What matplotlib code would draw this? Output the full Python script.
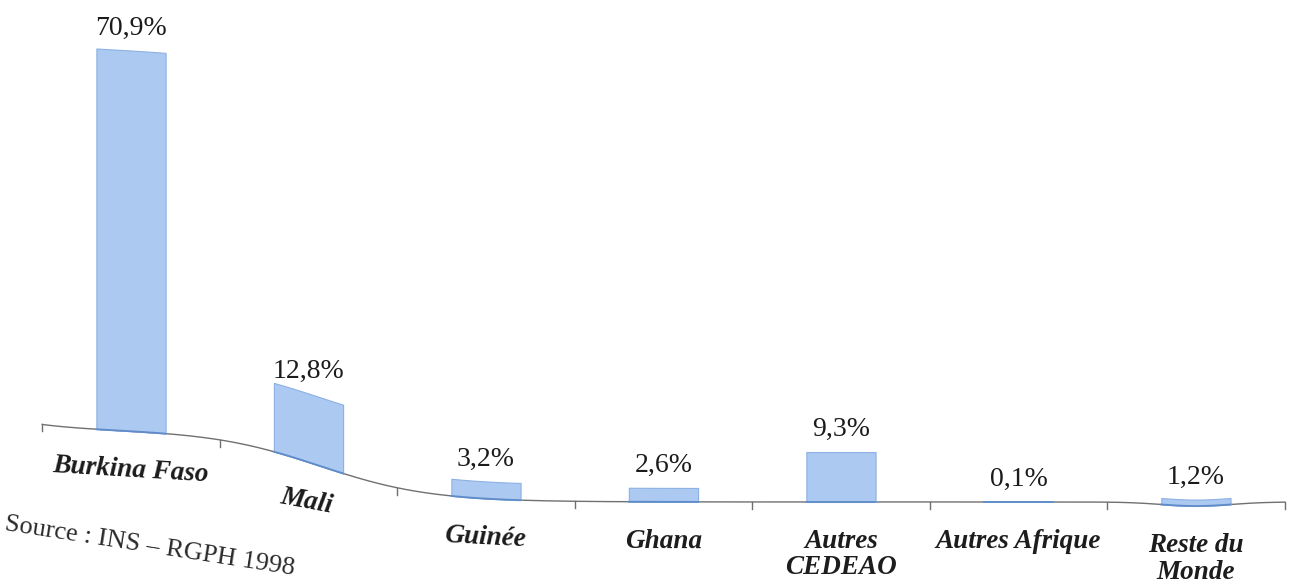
import numpy as np
import matplotlib.pyplot as plt

# Population étrangère par nationalité (RGPH 1998)
categories = ["Burkina Faso", "Mali", "Guinée", "Ghana",
              "Autres\nCEDEAO", "Autres Afrique", "Reste du\nMonde"]
shares = [70.9, 12.8, 3.2, 2.6, 9.3, 0.1, 1.2]
value_labels = ["70,9%", "12,8%", "3,2%", "2,6%", "9,3%", "0,1%", "1,2%"]
source = "Source : INS – RGPH 1998"

bar_fill = "#abc9f1"
bar_edge = "#8db1e4"
bar_base = "#5f8cc8"
ink = "#1b1b1b"


def curl(u):
    # baseline of the printed page: sags, bends down, then runs flat
    u = np.asarray(u, dtype=float)
    sag = 1.12 * (1 - np.exp(-np.clip(u + 0.5, 0, None) / 0.28))
    bend = 13.4 / (1 + np.exp(-(u - 1.065) / 0.31))
    dip = 0.75 * np.exp(-((u - 6.0) / 0.28) ** 2)
    return -sag - bend - dip


fig = plt.figure(figsize=(12.9, 5.85), dpi=100)
ax = fig.add_axes([0, 0, 1, 1])
ax.set_xlim(-0.738, 6.53)
ax.set_ylim(-29.98, 78.96)
ax.axis("off")

# axis line and separators
xx = np.linspace(-0.5, 6.5, 400)
ax.plot(xx, curl(xx), color="#707070", lw=1.0, zorder=1)
for b in np.arange(-0.5, 7.0, 1.0):
    y0 = float(curl(b))
    ax.plot([b, b], [y0, y0 - 1.3], color="#707070", lw=1.0, zorder=1)

width = 0.39
for i, (v, lab, cat) in enumerate(zip(shares, value_labels, categories)):
    xs = np.linspace(i - width / 2, i + width / 2, 60)
    base = curl(xs)
    ax.fill_between(xs, base, base + v, facecolor=bar_fill,
                    edgecolor=bar_edge, lw=0.8, zorder=2)
    ax.plot(xs, base, color=bar_base, lw=1.3, zorder=3)

    top = float(curl(i)) + v
    ax.annotate(lab, (i, top), xytext=(0, 10), textcoords="offset pixels",
                ha="center", va="bottom", fontsize=20,
                family="Liberation Serif", color=ink)

    # tilt the names with the bend of the baseline
    p0 = ax.transData.transform((i - 0.5, float(curl(i - 0.5))))
    p1 = ax.transData.transform((i + 0.5, float(curl(i + 0.5))))
    ang = np.degrees(np.arctan2(p1[1] - p0[1], p1[0] - p0[0])) * 0.7
    ax.annotate(cat, (i, float(curl(i))), xytext=(0, -27),
                textcoords="offset pixels", ha="center", va="top",
                rotation=ang, rotation_mode="anchor", linespacing=1.08,
                fontsize=19.5, fontweight="bold", fontstyle="italic",
                family="Liberation Serif", color=ink)

fig.text(0.003, 0.094, source, rotation=-8.8, rotation_mode="anchor",
         ha="left", va="baseline", fontsize=19, family="Liberation Serif",
         color="#2a2a2a")

fig.savefig("out.png", dpi=100, facecolor="white")
